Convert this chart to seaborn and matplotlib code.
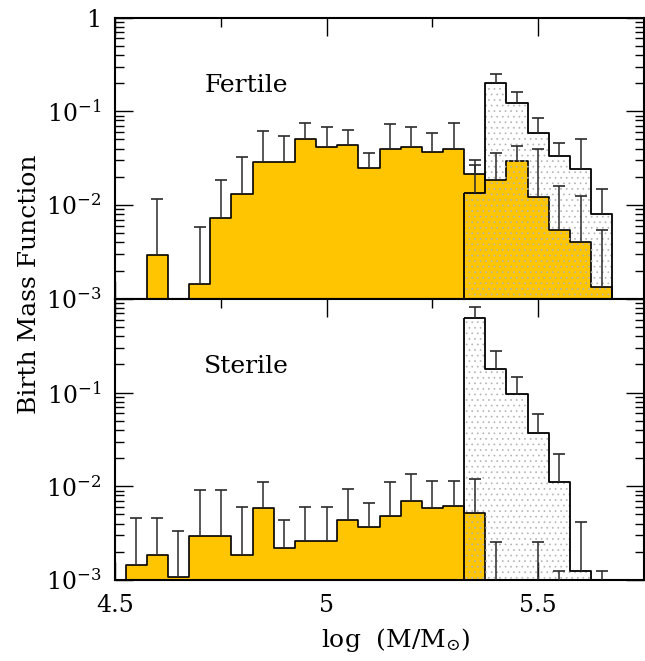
import numpy as np
import seaborn as sns
import matplotlib.pyplot as plt
from matplotlib.ticker import MultipleLocator, FixedLocator, FixedFormatter, LogLocator, NullFormatter

# bins in log(M/Msun), width 0.05
bin_centers = [4.55, 4.60, 4.65, 4.70, 4.75, 4.80, 4.85, 4.90, 4.95, 5.00, 5.05, 5.10,
               5.15, 5.20, 5.25, 5.30, 5.35, 5.40, 5.45, 5.50, 5.55, 5.60, 5.65]
hatch_centers = [5.35, 5.40, 5.45, 5.50, 5.55, 5.60, 5.65]

# Fertile panel
fertile = [0, 0.0029, 0, 0.00145, 0.0073, 0.0130, 0.029, 0.029, 0.0506, 0.042, 0.0437, 0.0248,
           0.0396, 0.0419, 0.0364, 0.0396, 0.0216, 0.0186, 0.0297, 0.0122, 0.00536, 0.00403, 0.00133]
fertile_up = [np.nan, 0.0116, np.nan, 0.0058, 0.0187, 0.0327, 0.062, 0.055, 0.075, 0.068, 0.0625, 0.036,
              0.073, 0.0673, 0.058, 0.075, 0.0304, 0.0359, 0.0422, 0.0399, 0.0161, 0.0126, 0.00536]
fertile_hatch = [0.0134, 0.200, 0.123, 0.058, 0.0336, 0.0242, 0.00807]
fertile_hatch_up = [0.0269, 0.250, 0.159, 0.084, 0.0459, 0.0506, 0.01466]

# Sterile panel
sterile = [0.00146, 0.00184, 0.00109, 0.00292, 0.00292, 0.00184, 0.00586, 0.0022, 0.00259, 0.00259, 0.0044,
           0.00368, 0.00479, 0.00697, 0.00586, 0.00621, 0.00515, 0, 0, 0, 0, 0, 0]
sterile_up = [0.00462, 0.0046, 0.0033, 0.00906, 0.00906, 0.0060, 0.0112, 0.0044, 0.0060, 0.0060, 0.00935,
              0.00658, 0.0110, 0.0136, 0.0115, 0.0115, 0.0119, 0.00256, np.nan, 0.00256, 0.00126, np.nan, 0.00126]
sterile_hatch = [0.63, 0.179, 0.097, 0.0373, 0.0112, 0.00126, 0]
sterile_hatch_up = [0.81, 0.28, 0.146, 0.0586, 0.0223, 0.00419, np.nan]

ytick_vals = [1e-3, 1e-2, 1e-1, 1]
ytick_labels = [r'$10^{-3}$', r'$10^{-2}$', r'$10^{-1}$', '1']
xtick_vals = [4.5, 5.0, 5.5]
xtick_labels = ['4.5', '5', '5.5']

YELLOW = '#FFC500'
W = 0.05

sns.set_style("ticks")
plt.rcParams['font.family'] = ['DejaVu Serif']
plt.rcParams['mathtext.fontset'] = 'dejavuserif'
plt.rcParams['hatch.linewidth'] = 0.5
for k in ['axes.edgecolor', 'xtick.color', 'ytick.color', 'text.color']:
    plt.rcParams[k] = 'black'


def edges_of(c):
    c = np.asarray(c)
    return list(np.append(c - W / 2, c[-1] + W / 2))


def panel(ax, vals, up, hvals, hup, label, show_top_label):
    sns.histplot(x=bin_centers, weights=vals, bins=edges_of(bin_centers), element='step',
                 fill=True, color=YELLOW, facecolor=YELLOW, edgecolor='black', linewidth=1.2,
                 alpha=1, ax=ax, zorder=2)
    # dotted hatch of the second population, then its outline
    sns.histplot(x=hatch_centers, weights=hvals, bins=edges_of(hatch_centers), element='step',
                 fill=True, color='#b4b4b4', facecolor='none', edgecolor='#b4b4b4', linewidth=0,
                 hatch='...', alpha=1, ax=ax, zorder=3)
    sns.histplot(x=hatch_centers, weights=hvals, bins=edges_of(hatch_centers), element='step',
                 fill=True, color='black', facecolor='none', edgecolor='black', linewidth=1.3,
                 alpha=1, ax=ax, zorder=4)
    for xc, v, u in [(bin_centers, vals, up), (hatch_centers, hvals, hup)]:
        xc = np.asarray(xc); v = np.asarray(v, float); u = np.asarray(u, float)
        m = ~np.isnan(u)
        ax.vlines(xc[m], v[m], u[m], color='#2a2a2a', lw=1.1, zorder=5)
        ax.plot(xc[m], u[m], ls='none', marker='_', ms=8, mew=1.2, color='#2a2a2a', zorder=5)

    ax.set_yscale('log')
    ax.set_ylim(1e-3, 1)
    ax.set_xlim(4.5, 5.75)
    ax.xaxis.set_major_locator(FixedLocator(xtick_vals))
    ax.xaxis.set_minor_locator(MultipleLocator(0.25))
    ax.yaxis.set_major_locator(FixedLocator(ytick_vals))
    labels = list(ytick_labels) if show_top_label else ytick_labels[:3] + ['']
    ax.yaxis.set_major_formatter(FixedFormatter(labels))
    ax.yaxis.set_minor_locator(LogLocator(base=10, subs=np.arange(2, 10), numticks=20))
    ax.yaxis.set_minor_formatter(NullFormatter())
    ax.tick_params(which='both', direction='in', top=True, right=True, width=1.0, labelsize=17)
    ax.tick_params(which='major', length=13, pad=10)
    ax.tick_params(which='minor', length=6.5)
    for s in ax.spines.values():
        s.set_linewidth(1.5)
    ax.set_ylabel('')
    ax.set_xlabel('')
    ax.text(4.81, 0.19, label, ha='center', va='center', fontsize=18)


fig = plt.figure(figsize=(6.45, 6.61), dpi=100)
ax_top = fig.add_axes([0.1783, 0.548, 0.8202, 0.4255])
ax_bot = fig.add_axes([0.1783, 0.1225, 0.8202, 0.4255], sharex=ax_top)

panel(ax_top, fertile, fertile_up, fertile_hatch, fertile_hatch_up, 'Fertile', True)
panel(ax_bot, sterile, sterile_up, sterile_hatch, sterile_hatch_up, 'Sterile', False)

ax_top.tick_params(labelbottom=False)
ax_bot.xaxis.set_major_formatter(FixedFormatter(xtick_labels))

fig.text(0.046, 0.57, 'Birth Mass Function', rotation=90, ha='center', va='center', fontsize=18)
fig.text(0.614, 0.032, r'log  (M/$\mathrm{M}_{\odot}$)', ha='center', va='center', fontsize=18)

fig.savefig('out.png', dpi=100)
